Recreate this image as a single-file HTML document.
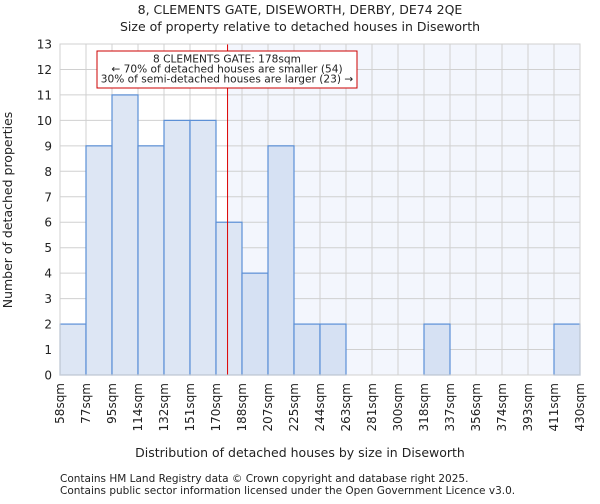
<!DOCTYPE html>
<html><head><meta charset="utf-8"><style>
body{margin:0;background:#fff;font-family:"DejaVu Sans","Liberation Sans",sans-serif;}
svg text{font-family:"DejaVu Sans","Liberation Sans",sans-serif;fill:#222;}
</style></head><body>
<svg id="c" width="600" height="500">
<text x="300" y="14" font-size="12.5" text-anchor="middle">8, CLEMENTS GATE, DISEWORTH, DERBY, DE74 2QE</text>
<text x="300" y="31" font-size="12.5" text-anchor="middle">Size of property relative to detached houses in Diseworth</text>
<g id="plot"></g>
<text x="300" y="457" font-size="12.5" text-anchor="middle">Distribution of detached houses by size in Diseworth</text>
<text transform="translate(12,210) rotate(-90)" font-size="12.5" text-anchor="middle">Number of detached properties</text>
<text x="60" y="482" font-size="10.5" fill="#444">Contains HM Land Registry data © Crown copyright and database right 2025.</text>
<text x="60" y="494" font-size="10.5" fill="#444">Contains public sector information licensed under the Open Government Licence v3.0.</text>
</svg>
<script>
const binLabels=["58sqm","77sqm","95sqm","114sqm","132sqm","151sqm","170sqm","188sqm","207sqm","225sqm","244sqm","263sqm","281sqm","300sqm","318sqm","337sqm","356sqm","374sqm","393sqm","411sqm","430sqm"];
const binEdges=[58,77,95,114,132,151,170,188,207,225,244,263,281,300,318,337,356,374,393,411,430];
const counts=[2,9,11,9,10,10,6,4,9,2,2,0,0,0,2,0,0,0,0,2];
const yTicks=[0,1,2,3,4,5,6,7,8,9,10,11,12,13];
const propertySize=178;
const X0=60,X1=580,Y0=375,Y1=44,ymax=13;
const n=counts.length,bw=(X1-X0)/n;
function xIdx(i){return X0+i*bw;}
function xVal(v){for(let i=0;i<binEdges.length-1;i++){if(v<=binEdges[i+1])return xIdx(i)+(v-binEdges[i])/(binEdges[i+1]-binEdges[i])*bw;}return X1;}
function y(v){return Y0-(v/ymax)*(Y0-Y1);}
const NS="http://www.w3.org/2000/svg",g=document.getElementById('plot');
function mk(t,a){const e=document.createElementNS(NS,t);for(const k in a)e.setAttribute(k,a[k]);g.appendChild(e);return e;}
const rx=xVal(propertySize);
let e=mk('rect',{x:rx,y:Y1,width:X1-rx,height:Y0-Y1,fill:'#f3f6fd'});


yTicks.forEach(t=>{let l=mk('line',{x1:X0,x2:X1,y1:y(t),y2:y(t),stroke:'#d0d0d0'});


let tx=mk('text',{x:X0-8,y:y(t)+4.5,'font-size':'12','text-anchor':'end'});tx.textContent=t;

});
for(let i=0;i<=n;i++){let l=mk('line',{x1:xIdx(i),x2:xIdx(i),y1:Y1,y2:Y0,stroke:'#d0d0d0'});


let tx=mk('text',{transform:`translate(${xIdx(i)+4},${Y0+8}) rotate(-90)`,'font-size':'12','text-anchor':'end'});tx.textContent=binLabels[i];

}
counts.forEach((c,i)=>{if(c<=0)return;let r=mk('rect',{x:xIdx(i),y:y(c),width:bw,height:Y0-y(c),fill:xIdx(i)>=rx?'#d6e1f3':'#dde6f4',stroke:'#5b8fd6','stroke-width':1.2});

});
let ln=mk('line',{x1:rx,x2:rx,y1:Y1,y2:Y0,stroke:'#dd0000','stroke-width':1});


let bx=mk('rect',{x:97,y:51,width:260,height:37,fill:'#fff',stroke:'#cc0000'});


["8 CLEMENTS GATE: 178sqm","← 70% of detached houses are smaller (54)","30% of semi-detached houses are larger (23) →"].forEach((s,k)=>{let t=mk('text',{x:227,y:62.5+k*10,'font-size':'10.6','text-anchor':'middle'});t.textContent=s;

});
let ax=mk('rect',{x:X0,y:Y1,width:X1-X0,height:Y0-Y1,fill:'none',stroke:'#d0d0d0'});


</script>
</body></html>
